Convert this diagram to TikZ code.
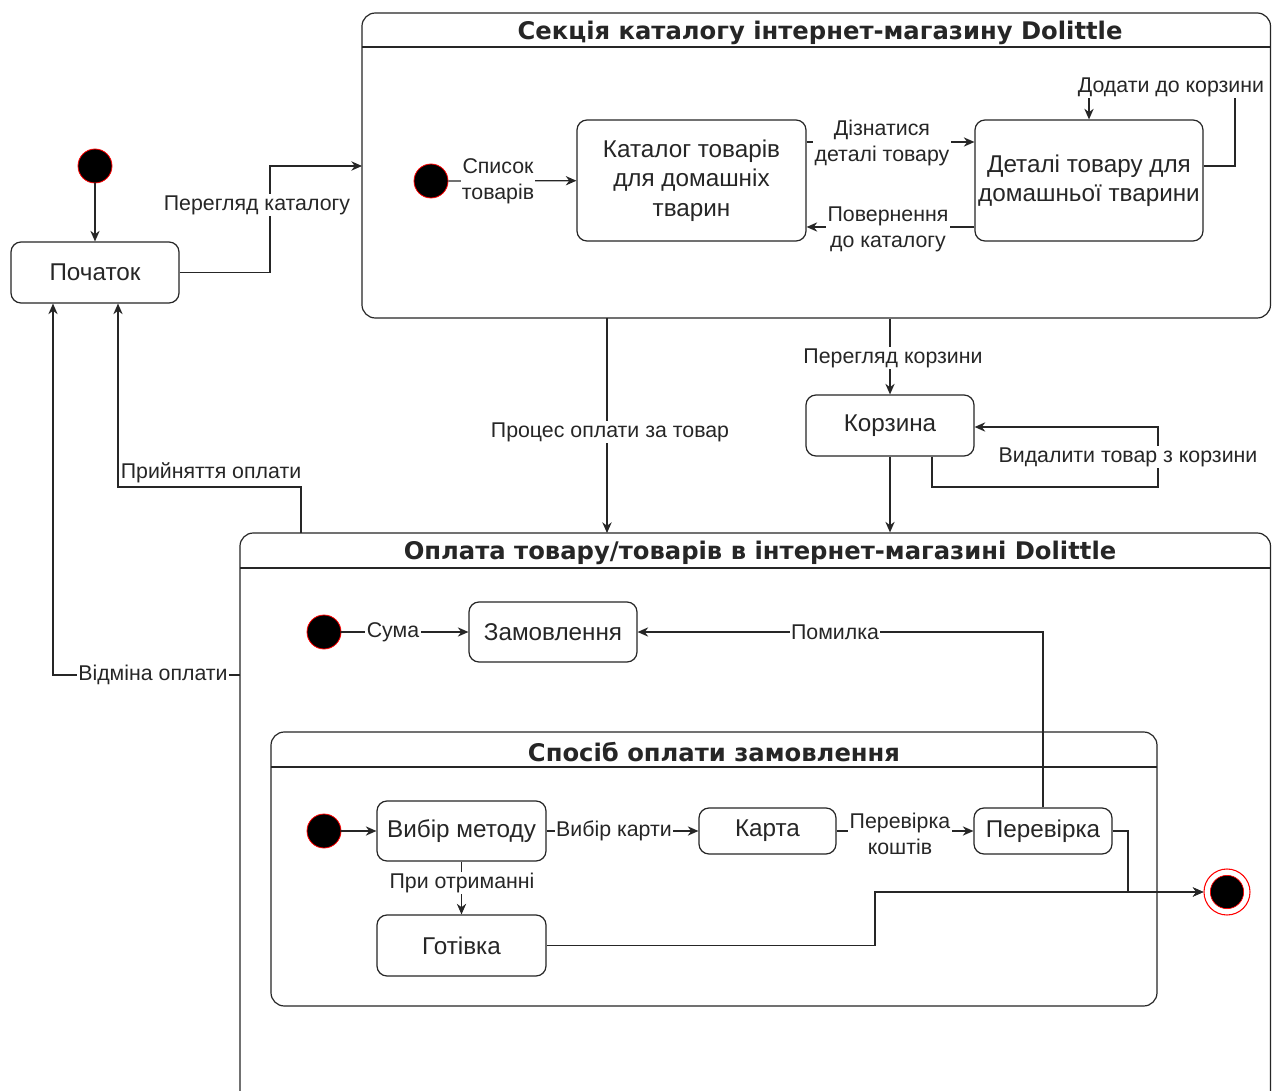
\documentclass[tikz,border=0pt]{standalone}
\usepackage{fontspec}
\setmainfont{Liberation Sans}
\newfontfamily\titlefont{DejaVu Sans}
\usetikzlibrary{arrows.meta,calc}

\begin{document}
\begin{tikzpicture}[x=0.75pt,y=-0.75pt,
  color=black!85, line width=0.9pt,
  arr/.style={-{Stealth[length=8pt,width=7pt]}},
  state/.style={draw, rounded corners=7.5pt, align=center, inner sep=0pt,
    font=\fontsize{18.2}{22}\selectfont},
  frame/.style={draw, rounded corners=10pt, inner sep=0pt},
  ftitle/.style={font=\titlefont\bfseries\fontsize{18.2}{20}\selectfont},
  lbl/.style={fill=white, inner sep=1pt, align=center,
    font=\fontsize{16}{19.5}\selectfont},
  lblclear/.style={lbl, fill=none},
  init/.style={circle, fill=black, draw=red, line width=0.6pt,
    minimum size=25.5pt, inner sep=0pt}
]
\clip (0,0) rectangle (1272,1091);
\fill[white] (0,0) rectangle (1272,1091);

% ---------- containers ----------
\node[frame, minimum width=681.4pt, minimum height=228.75pt] (catframe) at (816.25,165.5) {};
\draw (362,47) -- (1270.5,47);
\node[ftitle] (cattitle) at (820,33) {Секція каталогу інтернет-магазину Dolittle};

\node[frame, minimum width=772.9pt, minimum height=440.25pt] (payframe) at (755.25,826.5) {};
\draw (240,568) -- (1270.5,568);
\node[ftitle] (paytitle) at (760,553) {Оплата товару/товарів в інтернет-магазині Dolittle};

\node[frame, minimum width=664.5pt, minimum height=205.5pt] (methframe) at (714,869) {};
\draw (271,767) -- (1157,767);
\node[ftitle] (methtitle) at (714,752) {Спосіб оплати замовлення};

% ---------- states ----------
\node[init] (i0) at (95,166) {};
\node[state, minimum width=126pt, minimum height=45.75pt] (start) at (95,272.5) {Початок};

\node[init] (i1) at (431,181) {};
\node[state, minimum width=171.75pt, minimum height=90.75pt] (cat) at (691.5,180.5)
  {Каталог товарів\\для домашніх\\тварин};
\node[state, minimum width=171pt, minimum height=90.75pt] (det) at (1089,180.5)
  {Деталі товару для\\домашньої тварини};

\node[state, minimum width=126pt, minimum height=45.75pt] (cart) at (890,425.5) {Корзина};

\node[init] (i2) at (324,632) {};
\node[state, minimum width=126pt, minimum height=45pt] (order) at (553,632) {Замовлення};

\node[init] (i3) at (324,831) {};
\node[state, minimum width=126.75pt, minimum height=45pt] (choose) at (461.5,831) {Вибір методу};
\node[state, minimum width=102.75pt, minimum height=34.5pt] (card) at (767.5,831) {Карта};
\node[state, minimum width=103.5pt, minimum height=34.5pt] (check) at (1043,831) {Перевірка};
\node[state, minimum width=126.75pt, minimum height=45.75pt] (cash) at (461.5,945.5) {Готівка};

\node[circle, draw=red, line width=0.8pt, fill=white, minimum size=34.5pt, inner sep=0pt] (fin) at (1227,892) {};
\node[circle, fill=black, draw=red, line width=0.5pt, minimum size=25pt, inner sep=0pt] (fincore) at (fin) {};

% ---------- free ends on the container borders ----------
\coordinate (catIn) at (362,166);
\coordinate (catOutPay) at (607,318);
\coordinate (payInCat) at (607,533);
\coordinate (payOutOk) at (301,533);
\coordinate (payOutCancel) at (240,675);

% ---------- transitions ----------
\draw[arr] (i0) -- (start);
\draw[arr] (start.east) -| (270,166) -- (catIn);
\node[lbl] (lView) at (257,205) {Перегляд каталогу};

\draw[arr] (i1) -- (cat);
\node[lbl] (lList) at (498,181) {Список\\товарів};

\draw[arr] ($(cat.east)+(0,-38.5)$) -- ($(det.west)+(0,-38.5)$);
\node[lbl] (lDetails) at (882,143) {Дізнатися\\деталі товару};

\draw[arr] ($(det.west)+(0,46.5)$) -- ($(cat.east)+(0,46.5)$);
\node[lbl] (lBack) at (888,229) {Повернення\\до каталогу};

\draw[arr] ($(det.east)+(0,-14.5)$) -| (1235,87) -| (det.north);
\node[lbl] (lAdd) at (1171,87) {Додати до корзини};

\draw[arr] (catframe.south -| cart) -- (cart);
\node[lbl] (lCart) at (893,358) {Перегляд корзини};

\draw[arr] ($(cart.south)+(42,0)$) |- (1158,487) |- ($(cart.east)+(0,1.5)$);
\node[lbl] (lRemove) at (1128,457) {Видалити товар з корзини};

\draw[arr] (cart.south) -- (payframe.north -| cart);

\draw[arr] (catOutPay) -- (payInCat);
\node[lbl] (lPay) at (610,432) {Процес оплати за товар};

\draw[arr] (payOutOk) |- (118,487) -- ($(start.south)+(23,0)$);
\node[lblclear] (lAccept) at (211,473) {Прийняття оплати};

\draw[arr] (payOutCancel) -| ($(start.south)+(-42,0)$);
\node[lbl] (lCancel) at (153,675) {Відміна оплати};

\draw[arr] (i2) -- (order);
\node[lbl] (lSum) at (393,632) {Сума};

\draw[arr] (check.north) |- (order.east);
\node[lbl] (lError) at (835,632) {Помилка};

\draw[arr] (i3) -- (choose);

\draw[arr] (choose) -- (card);
\node[lbl] (lCard) at (614,831) {Вибір карти};

\draw[arr] (card) -- (check);
\node[lbl] (lFunds) at (900,834) {Перевірка\\коштів};

\draw[arr] (check.east) -| (1128,892) -- (fin.west);

\draw[arr] (choose) -- (cash);
\node[lbl] (lOnReceipt) at (462,883) {При отриманні};

\draw[arr] (cash.east) -| (875,892) -- (fin.west);
\end{tikzpicture}
\end{document}
